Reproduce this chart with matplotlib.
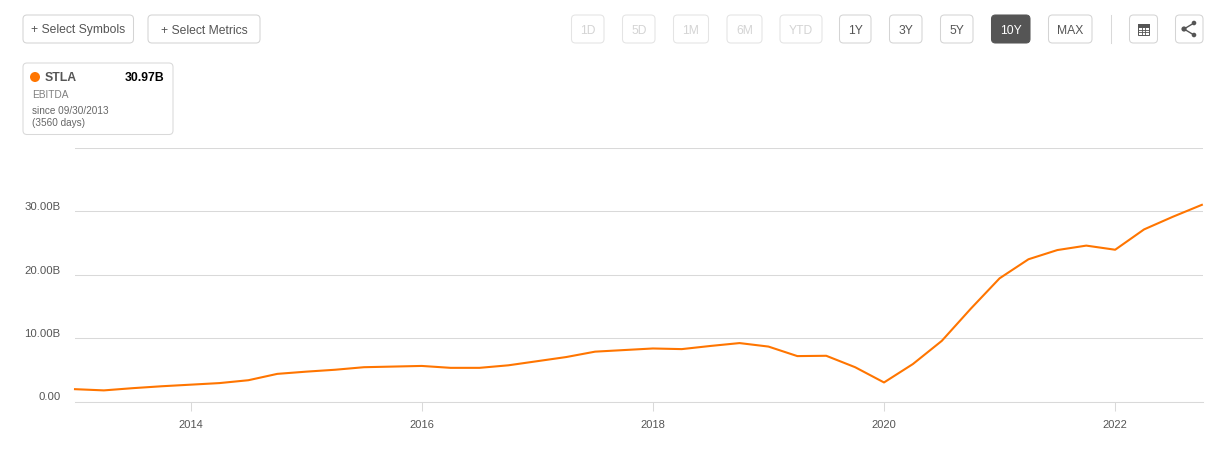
import matplotlib.pyplot as plt
from matplotlib.patches import FancyBboxPatch, Rectangle, Circle

plt.rcParams.update({'font.family': 'Liberation Sans', 'font.size': 8})

# quarterly EBITDA, billions
quarters = [2013.0, 2013.25, 2013.5, 2013.75, 2014.0, 2014.25, 2014.5, 2014.75,
            2015.0, 2015.25, 2015.5, 2015.75, 2016.0, 2016.25, 2016.5, 2016.75,
            2017.0, 2017.25, 2017.5, 2017.75, 2018.0, 2018.25, 2018.5, 2018.75,
            2019.0, 2019.25, 2019.5, 2019.75, 2020.0, 2020.25, 2020.5, 2020.75,
            2021.0, 2021.25, 2021.5, 2021.75, 2022.0, 2022.25, 2022.5, 2022.75]
ebitda = [1.94, 1.75, 2.1, 2.4, 2.65, 2.9, 3.35, 4.35,
          4.7, 5.0, 5.4, 5.5, 5.6, 5.3, 5.3, 5.7,
          6.35, 7.0, 7.85, 8.1, 8.35, 8.25, 8.75, 9.2,
          8.65, 7.15, 7.2, 5.4, 3.0, 5.9, 9.55, 14.6,
          19.4, 22.4, 23.85, 24.55, 23.9, 27.1, 29.1, 30.97]
year_ticks = [2014, 2016, 2018, 2020, 2022]
value_ticks = [0, 10, 20, 30, 40]
value_labels = ['0.00', '10.00B', '20.00B', '30.00B', '']

top_buttons = ['+ Select Symbols', '+ Select Metrics']
range_buttons = ['1D', '5D', '1M', '6M', 'YTD', '1Y', '3Y', '5Y', '10Y', 'MAX']
disabled = ['1D', '5D', '1M', '6M', 'YTD']
active = '10Y'

ORANGE = '#ff7500'
GRID = '#d9d9d9'
W, H = 1222, 452

fig = plt.figure(figsize=(W / 100, H / 100), dpi=100)

# chart, placed by pixel edges
left, right, top, bottom = 75, 1203, 148.5, 402.5
ax = fig.add_axes([left / W, 1 - bottom / H, (right - left) / W, (bottom - top) / H])
ax.plot(quarters, ebitda, color=ORANGE, lw=1.5, solid_joinstyle='round', clip_on=False, zorder=3)
ax.set_xlim(2013, 2022.76)
ax.set_ylim(0, 40)
ax.set_xticks(year_ticks)
ax.set_yticks(value_ticks)
ax.set_yticklabels(value_labels)
ax.grid(axis='y', color=GRID, lw=0.75)
ax.set_axisbelow(True)
for side in ['top', 'left', 'right']:
    ax.spines[side].set_visible(False)
ax.spines['bottom'].set_color(GRID)
ax.spines['bottom'].set_linewidth(0.75)
ax.tick_params(axis='x', length=6.5, width=0.75, color=GRID, labelcolor='#555555', labelsize=8, pad=6)
ax.tick_params(axis='y', length=0, labelcolor='#555555', labelsize=8.2, pad=10.5)
for lab in ax.get_yticklabels():
    lab.set_verticalalignment('bottom')

# page furniture, in pixel coordinates
ui = fig.add_axes([0, 0, 1, 1])
ui.set_xlim(0, W)
ui.set_ylim(H, 0)
ui.axis('off')
ui.patch.set_alpha(0)


def button(x0, x1, y0, y1, label=None, edge='#d4d4d4', face='white', color='#555555', size=8.7):
    ui.add_patch(FancyBboxPatch((x0 + 3, y0 + 3), x1 - x0 - 6, y1 - y0 - 6,
                                boxstyle='round,pad=3,rounding_size=4', fc=face, ec=edge, lw=0.75))
    if label:
        ui.text((x0 + x1) / 2, (y0 + y1) / 2 + 0.5, label, color=color, size=size,
                ha='center', va='center')


button(23, 133.5, 16, 44, top_buttons[0])
button(148, 260, 16, 44, top_buttons[1])

range_edges = [(571.5, 604), (622.5, 655), (673.5, 708.5), (727, 762), (780, 822),
               (839.5, 871), (889.5, 922), (940.5, 973), (991.5, 1030), (1048.5, 1092)]
for label, (x0, x1) in zip(range_buttons, range_edges):
    if label == active:
        button(x0, x1, 16, 44, label, edge='#555555', face='#555555', color='white')
    elif label in disabled:
        button(x0, x1, 16, 44, label, edge='#e4e4e4', color='#d4d4d4')
    else:
        button(x0, x1, 16, 44, label)

ui.plot([1110.5, 1110.5], [16, 44], color=GRID, lw=0.75)

# table icon
button(1129.5, 1157.5, 16, 44)
ui.add_patch(Rectangle((1138, 25), 11, 11, fc='white', ec='#555555', lw=0.7))
ui.add_patch(Rectangle((1138, 25), 11, 3, fc='#555555', ec='#555555', lw=0.7))
for x in [1141.7, 1145.3]:
    ui.plot([x, x], [28, 36], color='#555555', lw=0.6)
for y in [30.7, 33.3]:
    ui.plot([1138, 1149], [y, y], color='#555555', lw=0.6)

# share icon
button(1175.5, 1203, 16, 44)
ui.plot([1194, 1184, 1194], [24, 30, 36], color='#555555', lw=1)
for cx, cy, r in [(1184, 30, 2.6), (1194, 24, 2.3), (1194, 36, 2.3)]:
    ui.add_patch(Circle((cx, cy), r, fc='#555555', ec='none'))

# legend card
button(23, 173, 64, 135.5, edge='#d9d9d9')
ui.add_patch(Circle((35, 78), 5, fc=ORANGE, ec='none'))
ui.text(45, 78, 'STLA', color='#555555', size=8.8, weight='bold', va='center')
ui.text(164, 78, '30.97B', color='black', size=8.8, weight='bold', va='center', ha='right')
ui.text(32, 95, 'EBITDA', color='#808080', size=7.3, va='center')
ui.text(32, 111, 'since 09/30/2013', color='#666666', size=7.2, va='center')
ui.text(32, 123, '(3560 days)', color='#666666', size=7.2, va='center')

fig.savefig('out.png', dpi=100)
